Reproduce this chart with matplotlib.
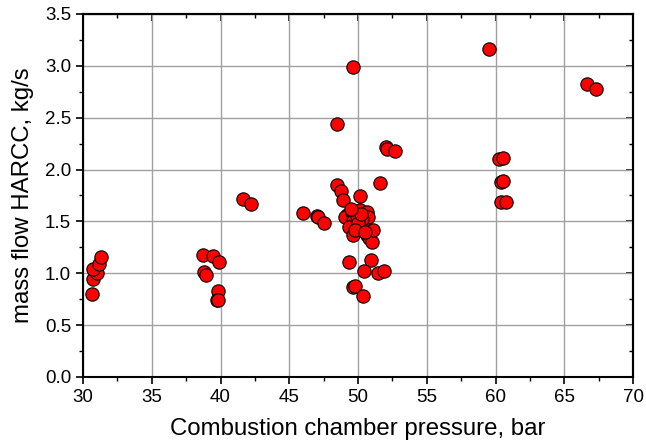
import matplotlib.pyplot as plt
from matplotlib.ticker import MultipleLocator, FormatStrFormatter, NullFormatter

plt.rcParams['font.family'] = ['Liberation Sans', 'DejaVu Sans']

# pression chambre (bar) et debit massique (kg/s)
pression = [30.63, 30.75, 30.99, 30.75, 31.19, 31.29,
            38.75, 39.48, 39.87, 38.83, 38.95, 39.80, 39.72, 39.80,
            41.61, 42.22,
            46.02, 47.0, 47.1, 47.53,
            48.45, 48.74, 48.93, 50.15, 51.6,
            52.0, 52.14, 52.72,
            48.5, 49.66, 59.5, 66.63, 67.31,
            60.28, 60.57, 60.38, 60.52, 60.38, 60.76,
            49.32, 50.92, 50.44, 51.48, 51.89, 49.66, 49.78, 50.39,
            49.18, 49.05, 49.54, 49.66, 50.15, 50.63, 50.75, 49.66, 49.37,
            49.66, 50.63, 50.82, 50.99, 50.39, 51.11, 49.9, 50.3, 50.0,
            49.8, 50.5, 50.2, 49.5]
debit = [0.80, 0.94, 1.00, 1.04, 1.09, 1.16,
         1.18, 1.17, 1.11, 1.01, 0.98, 0.83, 0.74, 0.745,
         1.72, 1.67,
         1.58, 1.55, 1.54, 1.48,
         1.85, 1.79, 1.71, 1.74, 1.87,
         2.215, 2.195, 2.18,
         2.44, 2.99, 3.16, 2.825, 2.78,
         2.10, 2.11, 1.88, 1.89, 1.685, 1.69,
         1.11, 1.13, 1.025, 1.006, 1.02, 0.87, 0.88, 0.78,
         1.56, 1.54, 1.59, 1.58, 1.61, 1.59, 1.545, 1.50, 1.45,
         1.37, 1.37, 1.34, 1.30, 1.45, 1.42, 1.55, 1.52, 1.48,
         1.42, 1.40, 1.57, 1.62]

fig = plt.figure(figsize=(6.46, 4.48), dpi=100)
ax = fig.add_axes([0.1285, 0.1585, 0.8515, 0.8105])

ax.scatter(pression, debit, s=92, color='red', edgecolors='black', linewidths=0.8, zorder=3)

ax.set_xlim(30, 70)
ax.set_ylim(0, 3.5)
ax.xaxis.set_major_locator(MultipleLocator(5))
ax.xaxis.set_minor_locator(MultipleLocator(2.5))
ax.yaxis.set_major_locator(MultipleLocator(0.5))
ax.yaxis.set_minor_locator(MultipleLocator(0.25))
ax.yaxis.set_major_formatter(FormatStrFormatter('%.1f'))

ax.grid(True, which='major', color='#a0a0a0', linewidth=1)
ax.set_axisbelow(True)
# ticks vers l'exterieur en bas et a gauche
ax.tick_params(which='both', direction='out', labelsize=13.5)
ax.tick_params(which='major', length=5, width=1.2)
ax.tick_params(which='minor', length=3, width=1)
for sp in ax.spines.values():
    sp.set_linewidth(1.5)

# ticks vers l'interieur en haut et a droite
haut = ax.secondary_xaxis('top')
haut.xaxis.set_major_locator(MultipleLocator(5))
haut.xaxis.set_minor_locator(MultipleLocator(2.5))
haut.xaxis.set_major_formatter(NullFormatter())
droite = ax.secondary_yaxis('right')
droite.yaxis.set_major_locator(MultipleLocator(0.5))
droite.yaxis.set_minor_locator(MultipleLocator(0.25))
droite.yaxis.set_major_formatter(NullFormatter())
for sec in (haut, droite):
    sec.tick_params(which='both', direction='in')
    sec.tick_params(which='major', length=5, width=1.2)
    sec.tick_params(which='minor', length=3, width=1)
    for sp in sec.spines.values():
        sp.set_linewidth(1.5)

ax.set_xlabel("Combustion chamber pressure, bar", fontsize=17.3, labelpad=9)
ax.set_ylabel("mass flow HARCC, kg/s", fontsize=17.3, labelpad=8)

fig.savefig("out.png", dpi=100)
